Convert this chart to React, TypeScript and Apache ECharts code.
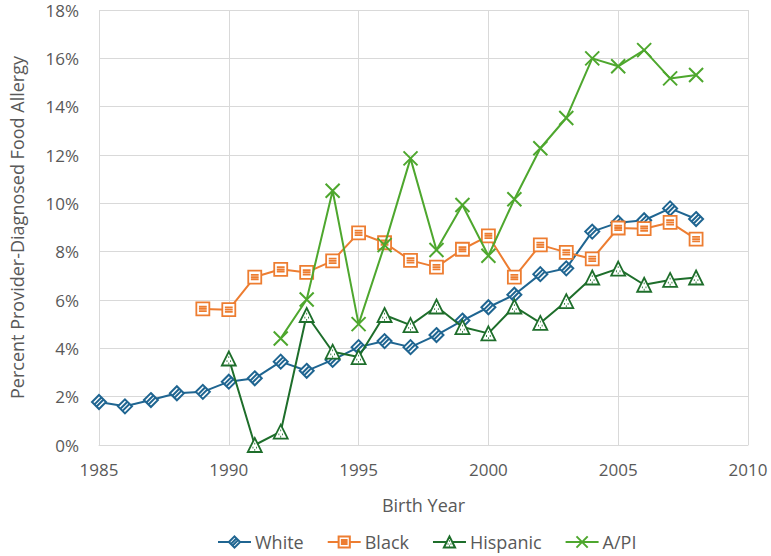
import React, { useEffect, useRef } from "react";
import * as echarts from "echarts";

const years = [1985, 1986, 1987, 1988, 1989, 1990, 1991, 1992, 1993, 1994, 1995, 1996, 1997, 1998, 1999, 2000, 2001, 2002, 2003, 2004, 2005, 2006, 2007, 2008];

const white = [1.78, 1.6, 1.86, 2.14, 2.2, 2.62, 2.76, 3.45, 3.07, 3.52, 4.05, 4.3, 4.05, 4.55, 5.15, 5.7, 6.22, 7.07, 7.31, 8.83, 9.2, 9.3, 9.79, 9.35];
const black = [null, null, null, null, 5.63, 5.6, 6.95, 7.27, 7.14, 7.62, 8.78, 8.37, 7.64, 7.36, 8.1, 8.65, 6.95, 8.28, 7.97, 7.7, 8.98, 8.95, 9.21, 8.52];
const hispanic = [null, null, null, null, null, 3.58, 0.0, 0.55, 5.38, 3.86, 3.64, 5.38, 4.96, 5.73, 4.88, 4.62, 5.73, 5.05, 5.95, 6.93, 7.3, 6.63, 6.83, 6.93];
const api = [null, null, null, null, null, null, null, 4.41, 6.02, 10.52, 5.0, 8.27, 11.86, 8.07, 9.93, 7.83, 10.17, 12.28, 13.53, 16.0, 15.67, 16.34, 15.17, 15.31];

const seriesNames = ["White", "Black", "Hispanic", "A/PI"];
const colors = ["#1F6591", "#ED7D31", "#1E6E2B", "#4EA72E"];

const FONT = "'Open Sans', sans-serif";
const TEXT = "#595959";
const GRID = "#D9D9D9";

const diamondPath = "path://M5,0L10,5L5,10L0,5Z M1.6,6.9L6.9,1.6 M3.1,8.4L8.4,3.1";
const squarePath = "path://M0,0H10V10H0Z M2,3.3H8 M2,5H8 M2,6.7H8";
const trianglePath = "path://M5,0L10,9L0,9Z M4.7,3.6H5.3 M3.4,6.2H4 M6,6.2H6.6 M4.7,7.6H5.3";
const crossPath = "path://M0,0L10,10M10,0L0,10";

function pairs(vals: (number | null)[]) {
  return years.map((y, i) => [y, vals[i]]).filter((p) => p[1] !== null);
}

export default function App() {
  const ref = useRef<HTMLDivElement>(null);
  useEffect(() => {
    if (!ref.current) return;
    const chart = echarts.init(ref.current, undefined, { renderer: "svg" });
    const sets = [white, black, hispanic, api];
    const symbols = [diamondPath, squarePath, trianglePath, crossPath];
    const sizes = [14, 13, 14, 14];
    const borders = [2, 1.8, 1.8, 2];
    chart.setOption({
      animation: false,
      backgroundColor: "#fff",
      textStyle: { fontFamily: FONT },
      grid: { left: 93, right: 23, top: 10, bottom: 111, containLabel: false },
      legend: {
        bottom: 0,
        left: 212,
        itemWidth: 33,
        itemHeight: 14,
        itemGap: 23,
        textStyle: { color: TEXT, fontSize: 18, fontFamily: FONT, padding: [0, 0, 0, -1] },
        data: seriesNames,
      },
      xAxis: {
        type: "value",
        min: 1985,
        max: 2010,
        interval: 5,
        name: "Birth Year",
        nameLocation: "middle",
        nameGap: 51,
        nameTextStyle: { color: TEXT, fontSize: 18, fontFamily: FONT },
        axisLine: { show: true, lineStyle: { color: GRID, width: 1 } },
        axisTick: { show: false },
        axisLabel: {
          color: TEXT,
          fontSize: 17,
          margin: 16,
          fontFamily: FONT,
          formatter: (v: number) => String(v),
        },
        splitLine: { show: true, lineStyle: { color: GRID, width: 1 } },
      },
      yAxis: {
        type: "value",
        min: 0,
        max: 18,
        interval: 2,
        name: "Percent Provider-Diagnosed Food Allergy",
        nameLocation: "middle",
        nameGap: 73,
        nameTextStyle: { color: TEXT, fontSize: 18, fontFamily: FONT },
        axisLine: { show: false },
        axisTick: { show: false },
        axisLabel: { color: TEXT, fontSize: 17, margin: 20, formatter: "{value}%", fontFamily: FONT },
        splitLine: { show: true, lineStyle: { color: GRID, width: 1 } },
      },
      series: sets.map((vals, i) => ({
        name: seriesNames[i],
        type: "line",
        data: pairs(vals),
        symbol: symbols[i],
        symbolSize: sizes[i],
        showAllSymbol: true,
        lineStyle: { color: colors[i], width: 2 },
        itemStyle: {
          color: i === 3 ? colors[i] : "#fff",
          borderColor: colors[i],
          borderWidth: borders[i],
        },
        z: 2 + i,
      })),
    });
    return () => chart.dispose();
  }, []);
  return (
    <div
      ref={ref}
      style={{ position: "fixed", left: 0, top: 0, width: 771, height: 556 }}
    />
  );
}
